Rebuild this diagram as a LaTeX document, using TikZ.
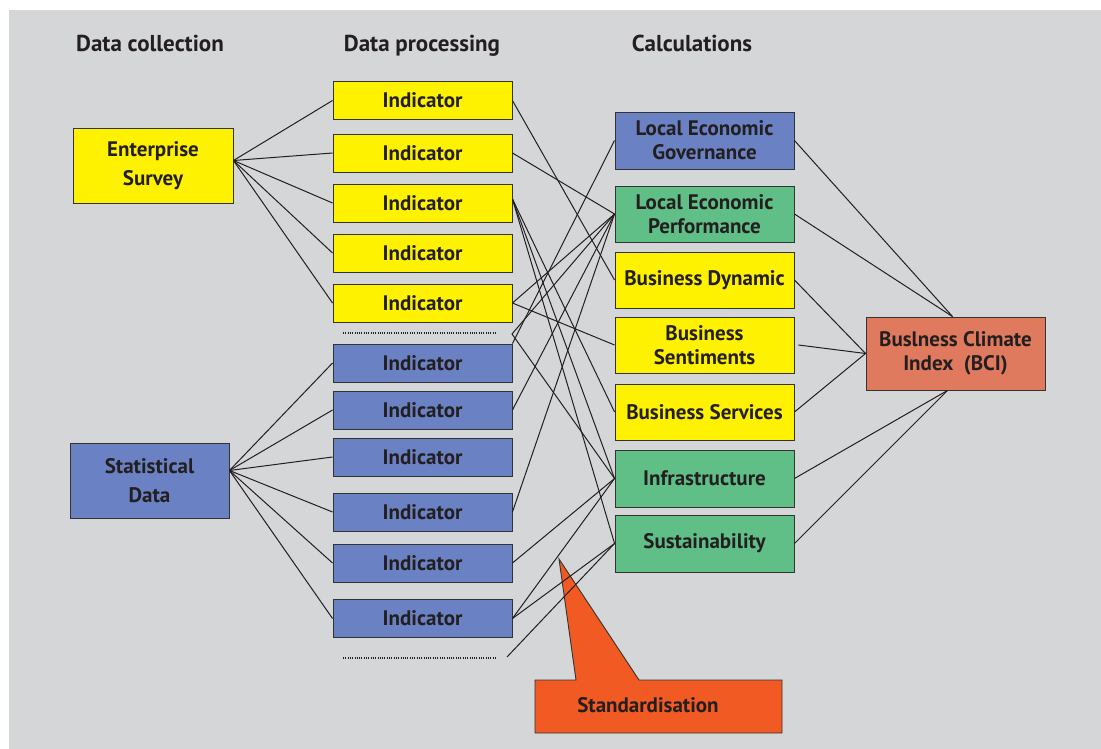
\documentclass[tikz,border=0pt]{standalone}
\usepackage{fontspec}
\setmainfont{PT Sans}
\usepackage{xcolor}
\usepackage{tikz}
\usetikzlibrary{positioning}

\definecolor{bgray}{HTML}{D5D6D8}
\definecolor{yel}{HTML}{FFF200}
\definecolor{blu}{HTML}{6A81C3}
\definecolor{grn}{HTML}{5FBF87}
\definecolor{salmon}{HTML}{E07A5F}
\definecolor{orng}{HTML}{F15A22}
\definecolor{txt}{HTML}{231F20}
\definecolor{edge}{HTML}{333333}

\begin{document}
\begin{tikzpicture}[x=1pt, y=-1pt,
  every node/.style={font=\bfseries\fontsize{21}{24}\selectfont, text=txt},
  box/.style={draw=edge, line width=0.9pt, inner sep=0pt, align=center},
  ind/.style={box, minimum width=179pt, minimum height=38pt},
  calc/.style={box, minimum width=179pt, minimum height=56pt},
  src/.style={box, minimum height=75pt, font=\bfseries\fontsize{21}{29}\selectfont},
  head/.style={anchor=base, font=\bfseries\fontsize{23}{26}\selectfont},
  link/.style={draw=txt, line width=1pt},
  dots/.style={draw=txt, line width=1.3pt, dash pattern=on 1pt off 1.3pt}]
  % background
  \useasboundingbox (0,0) rectangle (1101,749);
  \fill[bgray] (9,10) rectangle (1101,749);

  % column heads
  \node[head] (hcoll) at (150,52) {Data collection};
  \node[head] (hproc) at (422,52) {Data processing};
  \node[head] (hcalc) at (692,52) {Calculations};

  % data collection
  \node[src, fill=yel, minimum width=160pt] (es) at (153,165.5) {Enterprise\\Survey};
  \node[src, fill=blu, minimum width=159pt] (sd) at (149.5,480.5) {Statistical\\Data};

  % data processing
  \foreach \n/\yy in {1/100.5,2/153,3/203,4/253,5/303}
    \node[ind, fill=yel] (y\n) at (422.5,\yy) {Indicator};
  \foreach \n/\yy in {1/363,2/410,3/457,4/512,5/563,6/618.5}
    \node[ind, fill=blu] (b\n) at (422.5,\yy) {Indicator};
  \coordinate (dotA) at (512,334);
  \coordinate (dotB) at (507,657);
  \draw[dots] (343,333) -- (496,333);
  \draw[dots] (343,658) -- (496,658);

  % calculations
  \node[calc, fill=blu, minimum height=57pt] (leg) at (704.5,140.5) {Local Economic\\Governance};
  \node[calc, fill=grn] (lep) at (704.5,214) {Local Economic\\Performance};
  \node[calc, fill=yel] (bdyn) at (704.5,280) {Business Dynamic};
  \node[calc, fill=yel] (bsent) at (704.5,345) {Business\\Sentiments};
  \node[calc, fill=yel] (bserv) at (704.5,412) {Business Services};
  \node[calc, fill=grn, minimum height=57pt] (infra) at (704.5,478.5) {Infrastructure};
  \node[calc, fill=grn, minimum height=57pt] (sust) at (704.5,543.5) {Sustainability};

  % index
  \node[box, fill=salmon, minimum width=179pt, minimum height=73pt] (bci) at (955.5,353.5)
    {Buslness Climate\\Index\ \ (BCI)};

  % standardisation callout
  \draw[draw=edge, line width=0.9pt, fill=orng] (535,680) -- (576,680) -- (559,559)
    -- (639,680) -- (782,680) -- (782,733) -- (535,733) -- cycle;
  \node (std) at (648,705) {Standardisation};

  % collection -> indicators
  \coordinate (eshub) at ([yshift=5pt]es.east);
  \coordinate (sdhub) at ([yshift=10pt]sd.east);
  \foreach \n in {1,...,5}
    \draw[link] (eshub) -- (y\n.west);
  \foreach \n in {1,...,6}
    \draw[link] (sdhub) -- (b\n.west);

  % indicators -> calculations
  \draw[link] (y1.east) -- (bdyn.west);
  \draw[link] (y2.east) -- (lep.west);
  \draw[link] ([yshift=4pt]y3.east) -- (bserv.west);
  \draw[link] ([yshift=4pt]y3.east) -- (infra.west);
  \draw[link] ([yshift=4pt]y3.east) -- (sust.west);
  \draw[link] (y5.east) -- (lep.west);
  \draw[link] (y5.east) -- (bsent.west);
  \draw[link] (dotA) -- (lep.west);
  \draw[link] (dotA) -- (infra.west);
  \draw[link] (b1.north east) -- (leg.west);
  \draw[link] (b2.east) -- (lep.west);
  \draw[link] (b4.east) -- (lep.west);
  \draw[link] (b5.east) -- (infra.west);
  \draw[link] (b6.east) -- (infra.west);
  \draw[link] (b6.east) -- (sust.west);
  \draw[link] (dotB) -- (sust.west);

  % calculations -> index
  \draw[link] (leg.east) -- ([xshift=-3pt]bci.north);
  \draw[link] (lep.east) -- ([xshift=-3pt]bci.north);
  \draw[link] (bdyn.east) -- (bci.west);
  \draw[link] ([xshift=4pt]bsent.east) -- (bci.west);
  \draw[link] (bserv.east) -- (bci.west);
  \draw[link] (infra.east) -- ([xshift=-8pt]bci.south);
  \draw[link] (sust.east) -- ([xshift=-8pt]bci.south);
\end{tikzpicture}
\end{document}
